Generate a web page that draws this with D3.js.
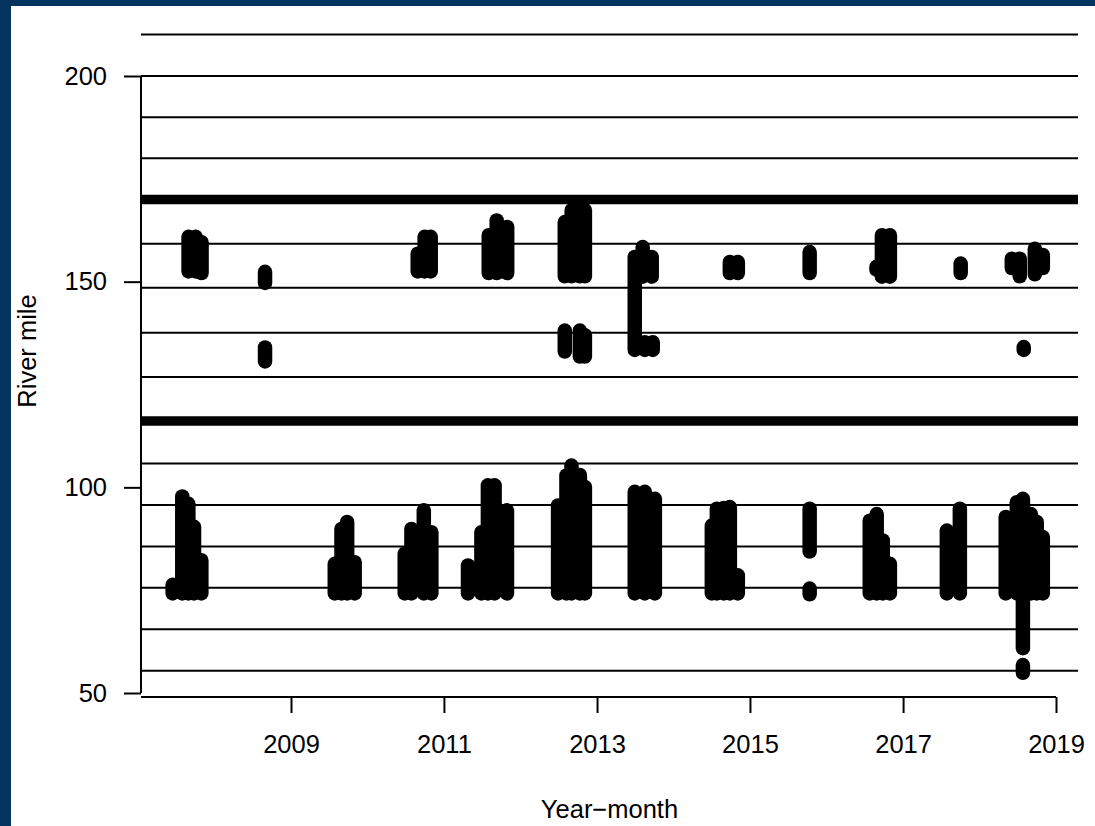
<!DOCTYPE html>
<html>
<head>
<meta charset="utf-8">
<script src="https://cdn.jsdelivr.net/npm/d3@7"></script>
<style>
  html, body { margin: 0; padding: 0; background: #ffffff; }
  svg { display: block; }
  text { font-family: "Liberation Sans", Arial, sans-serif; fill: #000; }
</style>
</head>
<body>
<svg id="chart" width="1095" height="826"></svg>
<script>
// Tick labels
const yearTicks = ["2009", "2011", "2013", "2015", "2017", "2019"];
const mileTicks = [50, 100, 150, 200];

// Reference river miles (thin lines) and reach boundaries (thick lines)
const refMiles = [210.1, 200, 190, 180, 159.2, 148.5, 137.6, 126.8, 105.8, 95.7, 85.6, 75.6, 65.5, 55.4];
const boundaryMiles = [170, 116.1];

// Detections: sampling date and the span of river miles occupied on that date
const obsDate = [
  "2007-06-16","2007-08-01","2007-08-30","2007-09-26","2007-10-31",
  "2007-08-31","2007-10-04","2007-11-01",
  "2008-08-30","2008-08-30",
  "2009-07-29","2009-08-30","2009-09-26","2009-11-01",
  "2010-06-28","2010-07-30","2010-09-27","2010-11-02",
  "2010-08-29","2010-10-01","2010-10-30",
  "2011-04-26","2011-06-29","2011-07-30","2011-08-31","2011-10-29",
  "2011-08-03","2011-09-10","2011-10-30",
  "2012-06-29","2012-08-08","2012-09-01","2012-10-11","2012-11-04",
  "2012-07-31","2012-09-02","2012-10-11","2012-11-04",
  "2012-07-31","2012-10-11","2012-11-04",
  "2013-06-30","2013-08-17","2013-10-04",
  "2013-06-30","2013-08-07","2013-09-19","2013-08-17","2013-09-24",
  "2014-07-03","2014-07-27","2014-08-29","2014-09-27","2014-11-04",
  "2014-09-27","2014-11-04",
  "2015-10-13","2015-10-13","2015-10-13",
  "2016-07-26","2016-08-28","2016-09-26","2016-10-30",
  "2016-08-27","2016-09-22","2016-10-30",
  "2017-07-29","2017-09-29",
  "2017-10-03",
  "2018-05-06","2018-06-28","2018-07-27","2018-09-03","2018-10-01","2018-10-30",
  "2018-07-27",
  "2018-06-04","2018-07-12","2018-07-31","2018-09-22","2018-10-30"
];
const obsLow = [
  74.2, 74.2, 74.2, 74.2, 74.2,
  152.5, 152.5, 152.1,
  149.7, 130.6,
  74.2, 74.2, 74.2, 74.2,
  74.2, 74.2, 74.2, 74.2,
  152.5, 152.5, 152.5,
  74.2, 74.2, 74.2, 74.2, 74.2,
  152.1, 152.1, 152.1,
  74.2, 74.2, 74.2, 74.2, 74.2,
  151.3, 151.3, 151.3, 151.3,
  133.0, 131.8, 131.8,
  74.2, 74.2, 74.2,
  133.4, 151.2, 151.2, 133.4, 133.4,
  74.2, 74.2, 74.2, 74.2, 74.2,
  152.1, 152.1,
  84.4, 74.0, 152.1,
  74.2, 74.2, 74.2, 74.2,
  152.9, 151.2, 151.2,
  74.2, 74.2,
  152.1,
  74.2, 74.2, 60.9, 74.2, 74.2, 74.2,
  54.9,
  153.3, 151.3, 133.4, 151.8, 153.3
];
const obsHigh = [
  76.3, 97.8, 96.0, 90.4, 82.3,
  160.9, 160.9, 159.6,
  152.4, 134.0,
  81.4, 89.9, 91.6, 81.8,
  83.9, 89.9, 94.4, 89.1,
  156.8, 160.9, 160.9,
  81.0, 89.1, 100.5, 100.5, 94.4,
  161.3, 164.9, 163.3,
  95.6, 102.9, 105.3, 103.0, 100.1,
  164.5, 167.4, 167.4, 167.4,
  138.1, 138.1, 137.0,
  98.9, 98.9, 97.2,
  156.0, 158.4, 156.0, 135.3, 135.3,
  90.7, 94.8, 95.0, 95.2, 78.6,
  154.8, 154.8,
  94.8, 75.4, 157.2,
  91.9, 93.5, 87.1, 81.4,
  153.6, 161.3, 161.3,
  89.5, 94.8,
  154.4,
  92.8, 96.4, 97.2, 93.5, 91.6, 87.9,
  56.8,
  155.6, 155.6, 134.1, 158.0, 156.5
];

const parse = d3.timeParse("%Y-%m-%d");
const obs = obsDate.map((d, i) => ({ date: parse(d), lo: obsLow[i], hi: obsHigh[i] }));

const svg = d3.select("#chart");
const W = 1095, H = 826;

// Frame bands
svg.append("rect").attr("x", 0).attr("y", 0).attr("width", W).attr("height", H).attr("fill", "#ffffff");
svg.append("rect").attr("x", 0).attr("y", 0).attr("width", W).attr("height", 6).attr("fill", "#02345f");
svg.append("rect").attr("x", 0).attr("y", 0).attr("width", 11).attr("height", H).attr("fill", "#02345f");

// Plot region
const left = 141, right = 1078, axisY = 697;

const x = d3.scaleTime()
  .domain([new Date(2009, 0, 1), new Date(2019, 0, 1)])
  .range([291, 1056]);
const y = d3.scaleLinear().domain([50, 200]).range([693, 76]);

// Reference lines
const g = svg.append("g");
g.selectAll("line.ref").data(refMiles).join("line")
  .attr("class", "ref")
  .attr("x1", left).attr("x2", right)
  .attr("y1", d => y(d)).attr("y2", d => y(d))
  .attr("stroke", "#000").attr("stroke-width", 2);
g.selectAll("line.bound").data(boundaryMiles).join("line")
  .attr("class", "bound")
  .attr("x1", left).attr("x2", right)
  .attr("y1", d => y(d)).attr("y2", d => y(d))
  .attr("stroke", "#000").attr("stroke-width", 9.5);

// Detections drawn as stacks of filled dots (round-capped strokes)
g.selectAll("line.obs").data(obs).join("line")
  .attr("class", "obs")
  .attr("x1", d => x(d.date)).attr("x2", d => x(d.date))
  .attr("y1", d => y(d.lo)).attr("y2", d => y(d.hi))
  .attr("stroke", "#000").attr("stroke-width", 14.5)
  .attr("stroke-linecap", "round");

// Y axis
const yAxis = svg.append("g").attr("transform", `translate(${left},0)`)
  .call(d3.axisLeft(y).tickValues(mileTicks).tickSize(17).tickPadding(17).tickFormat(d3.format("d")));
yAxis.select(".domain").remove();
yAxis.append("line")
  .attr("x1", 0).attr("x2", 0)
  .attr("y1", y(200)).attr("y2", y(50))
  .attr("stroke", "#000").attr("stroke-width", 2);

// X axis
const xTickDates = yearTicks.map(t => new Date(+t, 0, 1));
const xAxis = svg.append("g").attr("transform", `translate(0,${axisY})`)
  .call(d3.axisBottom(x).tickValues(xTickDates).tickSize(16).tickPadding(22).tickFormat(d3.timeFormat("%Y")));
xAxis.select(".domain").remove();
xAxis.append("line")
  .attr("x1", left).attr("x2", x(xTickDates[xTickDates.length - 1]))
  .attr("y1", 0).attr("y2", 0)
  .attr("stroke", "#000").attr("stroke-width", 2);

svg.selectAll(".tick line").attr("stroke", "#000").attr("stroke-width", 2);
svg.selectAll(".tick text").attr("font-size", 25.5).attr("font-family", "Liberation Sans, Arial, sans-serif");

// Axis titles
svg.append("text")
  .attr("x", (left + right) / 2).attr("y", 818)
  .attr("text-anchor", "middle").attr("font-size", 25.5)
  .text("Year\u2212month");
svg.append("text")
  .attr("transform", "translate(36,351) rotate(-90)")
  .attr("text-anchor", "middle").attr("font-size", 25.5)
  .text("River mile");
</script>
</body>
</html>
